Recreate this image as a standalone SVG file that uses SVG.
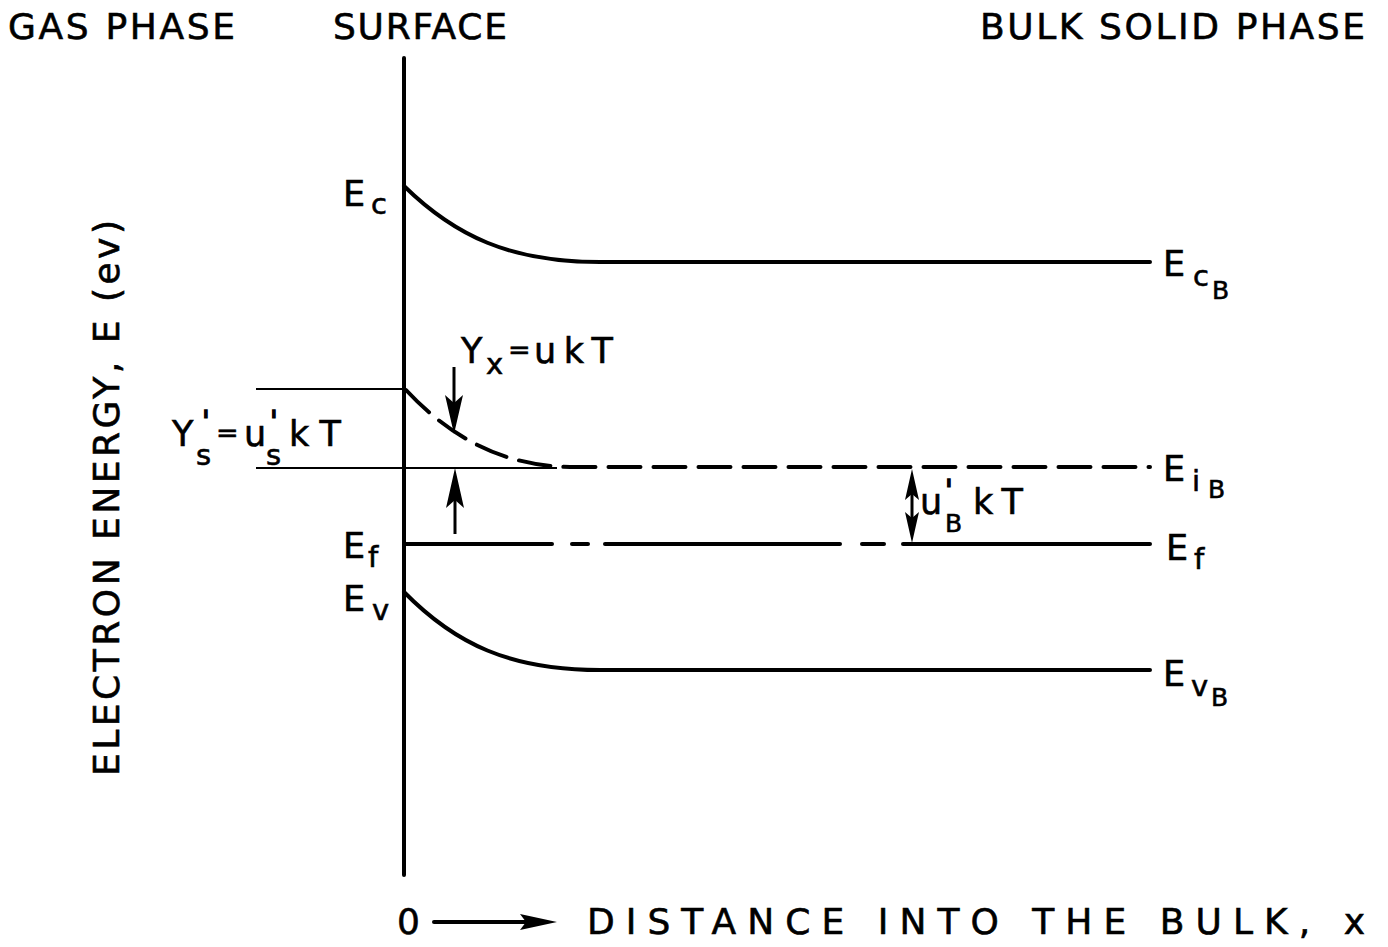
<svg xmlns="http://www.w3.org/2000/svg" width="1388" height="947" viewBox="0 0 1388 947">
<style>
text{font-family:"DejaVu Sans","Liberation Sans",Arial,sans-serif;fill:#000;stroke:#000;stroke-width:0.6}
.hd{font-size:36px}
.lb{font-size:35px}
.eq{font-size:27px}
.sb{font-size:29px}
.ss{font-size:25px}
.pr{font-size:28px;stroke-width:1.4}
.thick{stroke:#000;stroke-width:4;fill:none;stroke-linecap:round}
.thin{stroke:#000;stroke-width:2;fill:none}
.dash{stroke-dasharray:32 13}
</style>
<rect width="1388" height="947" fill="#fff"/>
<g id="headers">
<text class="hd" x="8" y="39" textLength="227" lengthAdjust="spacing">GAS PHASE</text>
<text class="hd" x="333" y="39" textLength="174" lengthAdjust="spacing">SURFACE</text>
<text class="hd" x="980" y="39" textLength="385" lengthAdjust="spacing">BULK SOLID PHASE</text>
</g>
<g id="axis-label">
<text class="hd" transform="translate(119,776) rotate(-90)" textLength="556" lengthAdjust="spacing">ELECTRON ENERGY, E (ev)</text>
</g>
<g id="x-axis-label">
<text class="hd" x="397" y="934">0</text>
<line class="thick" x1="434" y1="922" x2="525" y2="922"/>
<polygon points="520,914 557,922 520,930 526,922" fill="#000"/>
<text class="hd" x="587" y="934" textLength="778" lengthAdjust="spacing">DISTANCE INTO THE BULK, x</text>
</g>
<g id="surface">
<line class="thick" x1="404" y1="58" x2="404" y2="875" stroke-linecap="butt"/>
</g>
<g id="connectors">
<path id="Ec" class="thick" d="M404,186 C455,236 510,262 600,262 L1150,262"/>
<path id="Ev" class="thick" d="M404,592 C455,644 510,670 600,670 L1150,670"/>
<path id="Ei" class="thick dash" d="M406,390 C448,435 500,466 570,467 L1150,467"/>
<line class="thin" x1="256" y1="389" x2="404" y2="389"/>
<line class="thin" x1="256" y1="468" x2="557" y2="468"/>
<g id="Ef" class="thick">
<line x1="406" y1="544" x2="552" y2="544"/>
<line x1="572" y1="544" x2="588" y2="544"/>
<line x1="605" y1="544" x2="840" y2="544"/>
<line x1="862" y1="544" x2="884" y2="544"/>
<line x1="903" y1="544" x2="1150" y2="544"/>
</g>
<g id="arrow-down">
<line x1="454" y1="367" x2="454" y2="405" stroke="#000" stroke-width="3"/>
<polygon points="445,395 454,434 463,395 454,403" fill="#000"/>
</g>
<g id="arrow-up">
<line x1="455" y1="500" x2="455" y2="534" stroke="#000" stroke-width="3"/>
<polygon points="446,508 455,468 464,508 455,500" fill="#000"/>
</g>
<g id="arrow-double">
<line x1="912" y1="490" x2="912" y2="522" stroke="#000" stroke-width="3"/>
<polygon points="905,500 912,469 919,500 912,494" fill="#000"/>
<polygon points="905,512 912,543 919,512 912,518" fill="#000"/>
</g>
</g>
<g id="labels-left">
<text class="lb" x="343" y="206">E</text><text class="sb" x="371" y="214">c</text>
<text class="lb" x="343" y="558">E</text><text class="sb" x="368" y="567">f</text>
<text class="lb" x="343" y="611">E</text><text class="sb" x="372" y="620">v</text>
</g>
<g id="labels-right">
<text class="lb" x="1163" y="276">E</text><text class="sb" x="1193" y="286">c</text><text class="ss" x="1212" y="299">B</text>
<text class="lb" x="1163" y="481">E</text><text class="sb" x="1192" y="491">i</text><text class="ss" x="1208" y="498">B</text>
<text class="lb" x="1166" y="560">E</text><text class="sb" x="1194" y="569">f</text>
<text class="lb" x="1163" y="686">E</text><text class="sb" x="1191" y="696">v</text><text class="ss" x="1211" y="706">B</text>
</g>
<g id="label-Yx">
<text class="lb" x="461" y="363">Y</text><text class="sb" x="486" y="374">x</text>
<text class="eq" x="508" y="359">=</text>
<text class="lb" x="534" y="363" textLength="79" lengthAdjust="spacing">ukT</text>
</g>
<g id="label-Ys">
<text class="lb" x="172" y="446">Y</text><text class="pr" x="202" y="431">'</text><text class="sb" x="196" y="465">s</text>
<text class="eq" x="216" y="442">=</text>
<text class="lb" x="244" y="446">u</text><text class="pr" x="270" y="431">'</text><text class="sb" x="266" y="465">s</text>
<text class="lb" x="289" y="446" textLength="52" lengthAdjust="spacing">kT</text>
</g>
<g id="label-uB">
<text class="lb" x="920" y="514">u</text><text class="pr" x="945" y="500">'</text><text class="ss" x="945" y="532">B</text>
<text class="lb" x="973" y="514" textLength="50" lengthAdjust="spacing">kT</text>
</g>
</svg>
